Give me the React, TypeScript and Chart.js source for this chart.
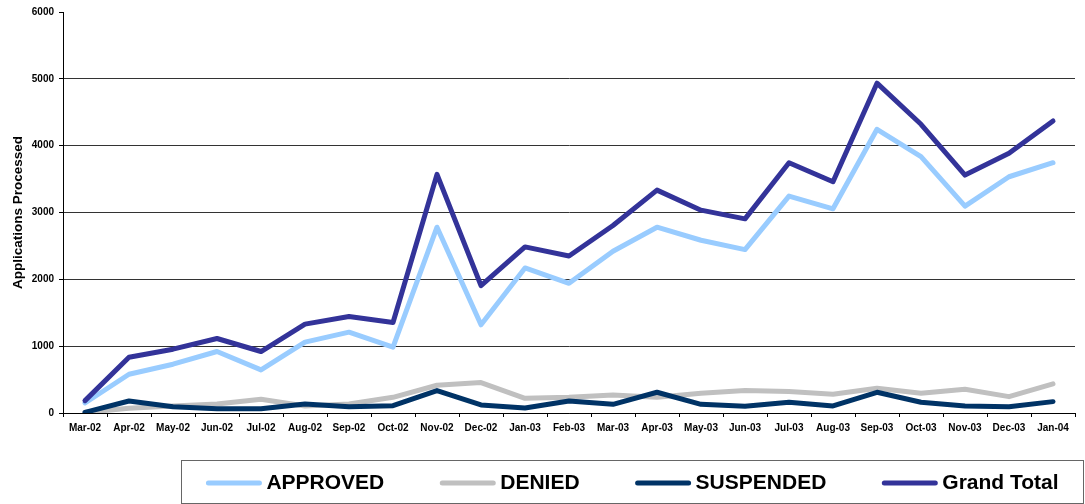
import React, { useEffect, useRef } from 'react';
import { Chart, registerables } from 'chart.js';

Chart.register(...registerables);

const categories = ['Mar-02', 'Apr-02', 'May-02', 'Jun-02', 'Jul-02', 'Aug-02', 'Sep-02', 'Oct-02', 'Nov-02', 'Dec-02', 'Jan-03', 'Feb-03', 'Mar-03', 'Apr-03', 'May-03', 'Jun-03', 'Jul-03', 'Aug-03', 'Sep-03', 'Oct-03', 'Nov-03', 'Dec-03', 'Jan-04'];
const approved = [150, 580, 730, 920, 645, 1060, 1210, 985, 2780, 1320, 2170, 1940, 2420, 2780, 2585, 2445, 3245, 3055, 4245, 3835, 3095, 3535, 3745];
const denied = [10, 70, 105, 135, 205, 105, 135, 235, 415, 455, 220, 235, 270, 235, 295, 335, 320, 280, 370, 295, 355, 245, 435];
const suspended = [10, 180, 95, 65, 65, 135, 95, 110, 335, 120, 75, 180, 130, 310, 130, 100, 160, 105, 310, 160, 105, 95, 170];
const grandTotal = [185, 835, 955, 1115, 920, 1330, 1445, 1355, 3570, 1905, 2485, 2350, 2805, 3335, 3035, 2905, 3745, 3460, 4935, 4320, 3560, 3885, 4370];
const yMin = 0;
const yMax = 6000;
const yStep = 1000;
const seriesNames = ['APPROVED', 'DENIED', 'SUSPENDED', 'Grand Total'];
const seriesColors = ['#99CCFF', '#C0C0C0', '#003366', '#333399'];
const yTitle = 'Applications Processed';

const FONT = '"Liberation Sans", Arial, sans-serif';

const boxLegend = {
  id: 'boxLegend',
  afterDraw(chart: any) {
    const ctx = chart.ctx;
    const left = 181.5;
    const right = 1083.5;
    const top = 460.5;
    const bottom = 503.5;
    ctx.save();
    ctx.strokeStyle = '#666666';
    ctx.lineWidth = 1;
    ctx.strokeRect(left, top, right - left, bottom - top);
    ctx.font = `bold 21px ${FONT}`;
    ctx.textBaseline = 'middle';
    ctx.textAlign = 'left';
    const lineLen = 55;
    const gapText = 5;
    const gapItem = 56;
    const items = chart.data.datasets.map((d: any) => ({ label: d.label, color: d.borderColor, w: ctx.measureText(d.label).width }));
    let total = 0;
    items.forEach((it: any, i: number) => {
      total += lineLen + gapText + it.w + (i < items.length - 1 ? gapItem : 0);
    });
    let x = (left + right) / 2 - total / 2;
    const y = (top + bottom) / 2 + 1;
    items.forEach((it: any) => {
      ctx.strokeStyle = it.color;
      ctx.lineWidth = 5;
      ctx.lineCap = 'round';
      ctx.beginPath();
      ctx.moveTo(x + 2, y);
      ctx.lineTo(x + lineLen - 2, y);
      ctx.stroke();
      ctx.fillStyle = '#000000';
      ctx.fillText(it.label, x + lineLen + gapText, y);
      x += lineLen + gapText + it.w + gapItem;
    });
    ctx.restore();
  },
};

export default function App() {
  const ref = useRef<HTMLCanvasElement | null>(null);
  useEffect(() => {
    document.body.style.margin = '0';
    document.body.style.overflow = 'hidden';
    const seriesData = [approved, denied, suspended, grandTotal];
    const chart = new Chart(ref.current as HTMLCanvasElement, {
      type: 'line',
      data: {
        labels: categories,
        datasets: seriesData.map((d, i) => ({
          label: seriesNames[i],
          data: d,
          borderColor: seriesColors[i],
          backgroundColor: seriesColors[i],
          borderWidth: 5,
          pointRadius: 0,
          pointHoverRadius: 0,
          tension: 0,
          fill: false,
          borderCapStyle: 'round',
          borderJoinStyle: 'round',
          order: 4 - i,
        })),
      },
      options: {
        animation: false,
        responsive: false,
        maintainAspectRatio: false,
        layout: { padding: { left: 0, right: 10, top: 12, bottom: 0 } },
        plugins: {
          legend: { display: false },
          tooltip: { enabled: false },
        },
        scales: {
          x: {
            type: 'category',
            offset: true,
            afterFit: (s: any) => { s.height = 91; },
            grid: { offset: true, drawOnChartArea: false, drawTicks: true, tickLength: 4, color: '#000000', tickColor: '#000000' },
            border: { display: true, color: '#000000', width: 1 },
            ticks: { color: '#000000', font: { family: FONT, size: 10, weight: 'bold' }, maxRotation: 0, autoSkip: false, padding: 5 },
          },
          y: {
            min: yMin,
            max: yMax,
            afterFit: (s: any) => { s.width = 63; },
            ticks: {
              stepSize: yStep,
              color: '#000000',
              font: { family: FONT, size: 10, weight: 'bold' },
              padding: 5,
              callback: (v: any) => String(v),
            },
            grid: {
              color: (c: any) => (c.tick && c.tick.value === yMax ? 'rgba(0,0,0,0)' : '#333333'),
              tickColor: '#000000',
              tickLength: 4,
              lineWidth: 1,
            },
            border: { display: true, color: '#000000', width: 1 },
            title: { display: true, text: yTitle, color: '#000000', font: { family: FONT, size: 13.5, weight: 'bold' }, padding: { top: 10, bottom: 0 } },
          },
        },
      },
      plugins: [boxLegend],
    } as any);
    return () => chart.destroy();
  }, []);
  return (
    <div style={{ width: 1085, height: 504 }}>
      <canvas ref={ref} width={1085} height={504} style={{ display: 'block', width: 1085, height: 504 }} />
    </div>
  );
}
